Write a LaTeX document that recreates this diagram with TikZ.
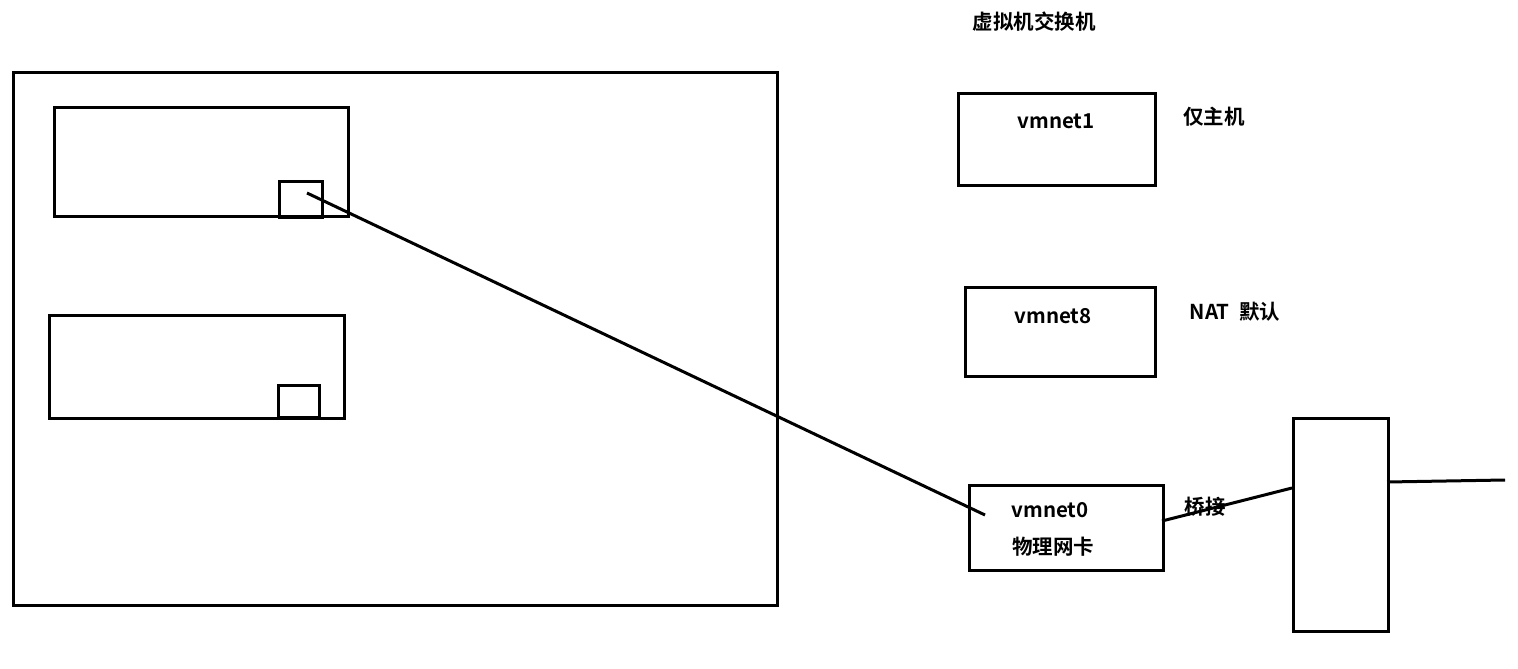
\documentclass[tikz,border=0pt]{standalone}
\usepackage{fontspec}
\setmainfont{Noto Sans CJK SC}[BoldFont={Noto Sans CJK SC Bold}]
\begin{document}
\begin{tikzpicture}[x=1pt,y=-1pt,
  box/.style={draw,line width=3pt},
  lbl/.style={font=\bfseries\fontsize{20.5}{24}\selectfont,inner sep=0pt},
  wire/.style={line width=3pt}]
\useasboundingbox (0,0) rectangle (1518,669);
\node[box,minimum width=764pt,minimum height=533pt,anchor=north west] (host) at (12,71) {};
\node[box,minimum width=294pt,minimum height=109pt,anchor=north west] (vm1) at (53,106) {};
\node[box,minimum width=43pt,minimum height=36pt,anchor=north west] (nic1) at (278,180) {};
\node[box,minimum width=295pt,minimum height=103pt,anchor=north west] (vm2) at (48,314) {};
\node[box,minimum width=41pt,minimum height=32pt,anchor=north west] (nic2) at (277,384) {};
\node[lbl] (title) at (1034,22) {虚拟机交换机};
\node[lbl] (v1t) at (1056,121) {vmnet1};
\node[lbl] (v1l) at (1214,117) {仅主机};
\node[box,minimum width=197pt,minimum height=92pt,anchor=north west] (v1) at (957,92) {};
\node[box,minimum width=190pt,minimum height=89pt,anchor=north west] (v8) at (964,286) {};
\node[lbl] (v8t) at (1053,316) {vmnet8};
\node[lbl] (v8l) at (1235,312) {NAT\ \ 默认};
\node[box,minimum width=194pt,minimum height=85pt,anchor=north west] (v0) at (968,484) {};
\node[lbl] (v0t) at (1050,510) {vmnet0};
\node[lbl] (v0p) at (1053,547) {物理网卡};
\node[lbl] (v0l) at (1205,507) {桥接};
\node[box,minimum width=95pt,minimum height=213pt,anchor=north west] (sw) at (1292,417) {};
\coordinate (a) at (307,193);
\coordinate (b) at (985,515);
\coordinate (c) at (1162,521);
\coordinate (d) at (1292,488);
\coordinate (e) at (1387,482);
\coordinate (f) at (1505,480);
\draw[wire] (a) -- (b);
\draw[wire] (c) -- (d);
\draw[wire] (e) -- (f);
\end{tikzpicture}
\end{document}
